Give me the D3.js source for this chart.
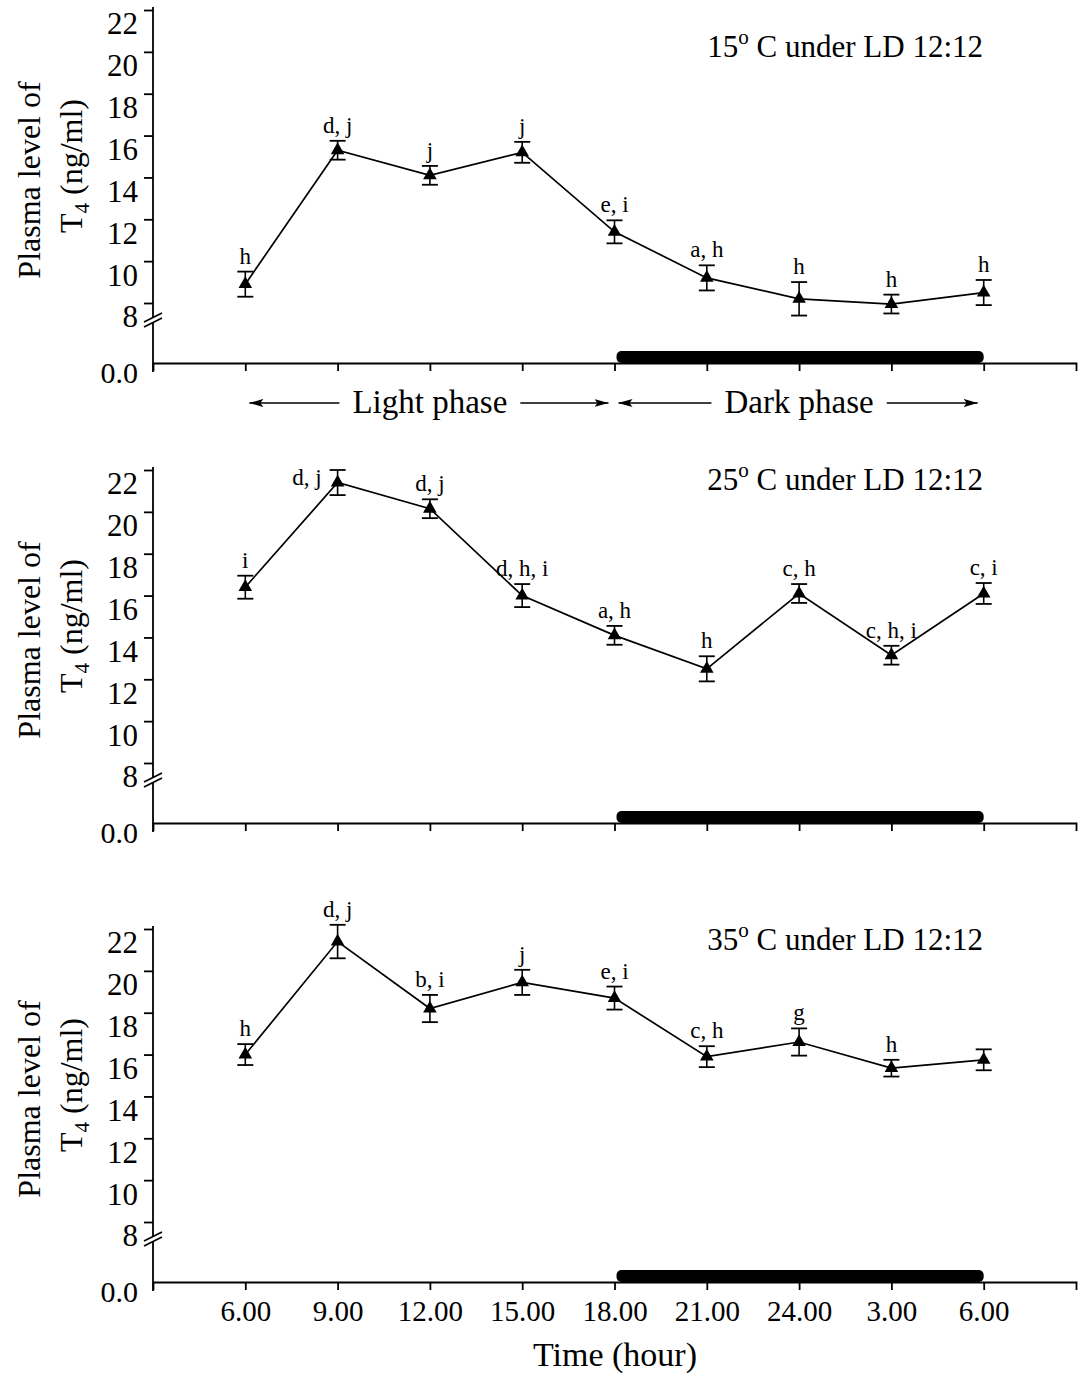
<!DOCTYPE html>
<meta charset="utf-8">
<style>
  body { margin: 0; background: #fff; }
  svg { display: block; font-family: "Liberation Serif", "Times New Roman", serif; }
  .axis { font-family: "Liberation Serif", "Times New Roman", serif; }
  .axis path, .axis line { stroke: #000; stroke-width: 1.8; }
  .axis text { font-size: 29px; fill: #000; }
  .yax text { font-size: 31px; }
</style>
<body></body>
<script src="https://d3js.org/d3.v7.min.js"></script>
<script>

// sampling times (clock hour), one per point
var times = ["6.00", "9.00", "12.00", "15.00", "18.00", "21.00", "24.00", "3.00", "6.00"];
var yTicks = [8, 10, 12, 14, 16, 18, 20, 22];
var temps = ["15", "25", "35"];

// plasma T4 (ng/ml), mean and SE
var mean15 = [8.9, 15.3, 14.1, 15.2, 11.4, 9.2, 8.2, 7.95, 8.5];
var err15  = [0.6, 0.45, 0.45, 0.5, 0.55, 0.6, 0.8, 0.45, 0.6];
var lab15  = ["h", "d, j", "j", "j", "e, i", "a, h", "h", "h", "h"];

var mean25 = [16.4, 21.4, 20.15, 16.0, 14.1, 12.5, 16.1, 13.15, 16.1];
var err25  = [0.55, 0.6, 0.45, 0.55, 0.45, 0.6, 0.45, 0.45, 0.5];
var lab25  = ["i", "d, j", "d, j", "d, h, i", "a, h", "h", "c, h", "c, h, i", "c, i"];

var mean35 = [16.0, 21.4, 18.2, 19.45, 18.7, 15.9, 16.6, 15.35, 15.75];
var err35  = [0.5, 0.8, 0.65, 0.6, 0.55, 0.5, 0.65, 0.4, 0.5];
var lab35  = ["h", "d, j", "b, i", "j", "e, i", "c, h", "g", "h", ""];

var panels = [
  {temp: temps[0], mean: mean15, err: err15, lab: lab15},
  {temp: temps[1], mean: mean25, err: err25, lab: lab25},
  {temp: temps[2], mean: mean35, err: err35, lab: lab35}
];

var W = 1083, H = 1376;
var axisX = 153, axisR = 1076;
var offs = [0, 460, 919];        // vertical shift of each panel
var titleY = [57, 490, 950];
var top22 = 10, bot8 = 303, zero = 363;

var svg = d3.select("body").append("svg")
    .attr("width", W)
    .attr("height", H);

var x = d3.scaleLinear().domain([-1, 9]).range([axisX, axisR]);
var y = d3.scaleLinear().domain([8, 22]).range([bot8, top22]);

var line = d3.line()
    .x(function(d, i) { return x(i); })
    .y(function(d) { return y(d); });

var tri = d3.symbol().type(d3.symbolTriangle).size(80);

panels.forEach(function(p, k) {
  var g = svg.append("g").attr("transform", "translate(0," + offs[k] + ")");

  // x axis on the zero line
  var xaxis = d3.axisBottom(x)
      .tickValues(d3.range(times.length))
      .tickSize(8)
      .tickSizeOuter(8)
      .tickPadding(10)
      .tickFormat(function(i) { return k == 2 ? times[i] : ""; });

  g.append("g")
    .attr("class", "axis")
    .attr("transform", "translate(0," + zero + ")")
    .call(xaxis)
    .attr("font-family", null);

  // dark phase bar, 18.00 -> 6.00
  g.append("rect")
    .attr("x", x(4) + 2)
    .attr("y", zero - 12)
    .attr("width", x(8) - x(4) - 2)
    .attr("height", 12)
    .attr("rx", 5)
    .attr("fill", "#000");

  // y axis (8..22), then the segment down to 0.0
  var yaxis = d3.axisLeft(y)
      .tickValues(yTicks)
      .tickSize(9)
      .tickSizeOuter(0)
      .tickPadding(6);

  var ya = g.append("g")
    .attr("class", "axis yax")
    .attr("transform", "translate(" + axisX + ",0)")
    .call(yaxis)
    .attr("font-family", null);
  ya.select(".domain").remove();
  ya.selectAll(".tick text").attr("y", 14);

  g.append("line")
    .attr("x1", axisX).attr("x2", axisX)
    .attr("y1", top22 - 3).attr("y2", zero + 9)
    .attr("stroke", "#000").attr("stroke-width", 1.8);

  g.append("text")
    .attr("x", axisX - 15)
    .attr("y", zero + 9)
    .attr("dy", "0.35em")
    .attr("text-anchor", "end")
    .style("font-size", "30px")
    .text("0.0");

  // axis break
  var yb = bot8 + 20;
  g.append("polygon")
    .attr("points", [[axisX - 9, yb + 4], [axisX + 9, yb - 5], [axisX + 9, yb - 10], [axisX - 9, yb - 1]].join(" "))
    .attr("fill", "#fff");
  [0, -5].forEach(function(s) {
    g.append("line")
      .attr("x1", axisX - 9).attr("y1", yb + 4 + s)
      .attr("x2", axisX + 9).attr("y2", yb - 5 + s)
      .attr("stroke", "#000").attr("stroke-width", 1.6);
  });

  // y label
  g.append("text")
    .attr("transform", "translate(40," + 180 + ") rotate(-90)")
    .attr("text-anchor", "middle")
    .style("font-size", "32px")
    .text("Plasma level of");
  var t4 = g.append("text")
    .attr("transform", "translate(82," + 166 + ") rotate(-90)")
    .attr("text-anchor", "middle")
    .style("font-size", "32px");
  t4.append("tspan").text("T");
  t4.append("tspan").attr("dy", 7).style("font-size", "21px").text("4");
  t4.append("tspan").attr("dy", -7).text(" (ng/ml)");

  // title
  var tt = g.append("text")
    .attr("x", 983)
    .attr("y", titleY[k] - offs[k])
    .attr("text-anchor", "end")
    .style("font-size", "31px");
  tt.append("tspan").text(p.temp);
  tt.append("tspan").attr("dy", -13).style("font-size", "21px").text("o");
  tt.append("tspan").attr("dy", 13).text(" C under LD 12:12");

  // series line
  g.append("path")
    .datum(p.mean)
    .attr("d", line)
    .attr("fill", "none")
    .attr("stroke", "#000")
    .attr("stroke-width", 1.7);

  var pts = g.selectAll("g.pt")
    .data(p.mean)
    .enter().append("g")
    .attr("class", "pt")
    .attr("transform", function(d, i) { return "translate(" + x(i) + ",0)"; });

  pts.append("line")
    .attr("y1", function(d, i) { return y(d + p.err[i]); })
    .attr("y2", function(d, i) { return y(d - p.err[i]); })
    .attr("stroke", "#000").attr("stroke-width", 1.6);
  [1, -1].forEach(function(sgn) {
    pts.append("line")
      .attr("x1", -8).attr("x2", 8)
      .attr("y1", function(d, i) { return y(d + sgn * p.err[i]); })
      .attr("y2", function(d, i) { return y(d + sgn * p.err[i]); })
      .attr("stroke", "#000").attr("stroke-width", 1.8);
  });

  pts.append("path")
    .attr("d", tri)
    .attr("transform", function(d) { return "translate(0," + y(d) + ")"; })
    .attr("fill", "#000");

  // the 9.00 label of the 25 C panel sits beside its point
  pts.append("text")
    .attr("x", function(d, i) { return (k == 1 && i == 1) ? -16 : 0; })
    .attr("y", function(d, i) { return (k == 1 && i == 1) ? y(d) + 2 : y(d + p.err[i]) - 8; })
    .attr("text-anchor", function(d, i) { return (k == 1 && i == 1) ? "end" : "middle"; })
    .style("font-size", "23px")
    .text(function(d, i) { return p.lab[i]; });
});

// light / dark phase captions under the first panel
var phases = [["Light phase", 0, 4], ["Dark phase", 4, 8]];
var defs = svg.append("defs");
defs.append("marker")
  .attr("id", "head")
  .attr("viewBox", "0 0 14 8")
  .attr("refX", 14).attr("refY", 4)
  .attr("markerWidth", 14).attr("markerHeight", 8)
  .attr("markerUnits", "userSpaceOnUse")
  .attr("orient", "auto")
  .append("path")
  .attr("d", "M0,0 L14,4 L0,8 L3,4 Z")
  .attr("fill", "#000");

var arrowY = 403;
phases.forEach(function(ph) {
  var cx = (x(ph[1]) + x(ph[2])) / 2;
  var t = svg.append("text")
    .attr("x", cx)
    .attr("y", 413)
    .attr("text-anchor", "middle")
    .style("font-size", "33px")
    .text(ph[0]);
  var tw = t.node().getComputedTextLength();
  svg.append("line")
    .attr("x1", cx - tw / 2 - 13).attr("y1", arrowY)
    .attr("x2", x(ph[1]) + 4).attr("y2", arrowY)
    .attr("stroke", "#000").attr("stroke-width", 1.6)
    .attr("marker-end", "url(#head)");
  svg.append("line")
    .attr("x1", cx + tw / 2 + 13).attr("y1", arrowY)
    .attr("x2", x(ph[2]) - 6).attr("y2", arrowY)
    .attr("stroke", "#000").attr("stroke-width", 1.6)
    .attr("marker-end", "url(#head)");
});

svg.append("text")
  .attr("x", 615)
  .attr("y", 1366)
  .attr("text-anchor", "middle")
  .style("font-size", "34px")
  .text("Time (hour)");

</script>
